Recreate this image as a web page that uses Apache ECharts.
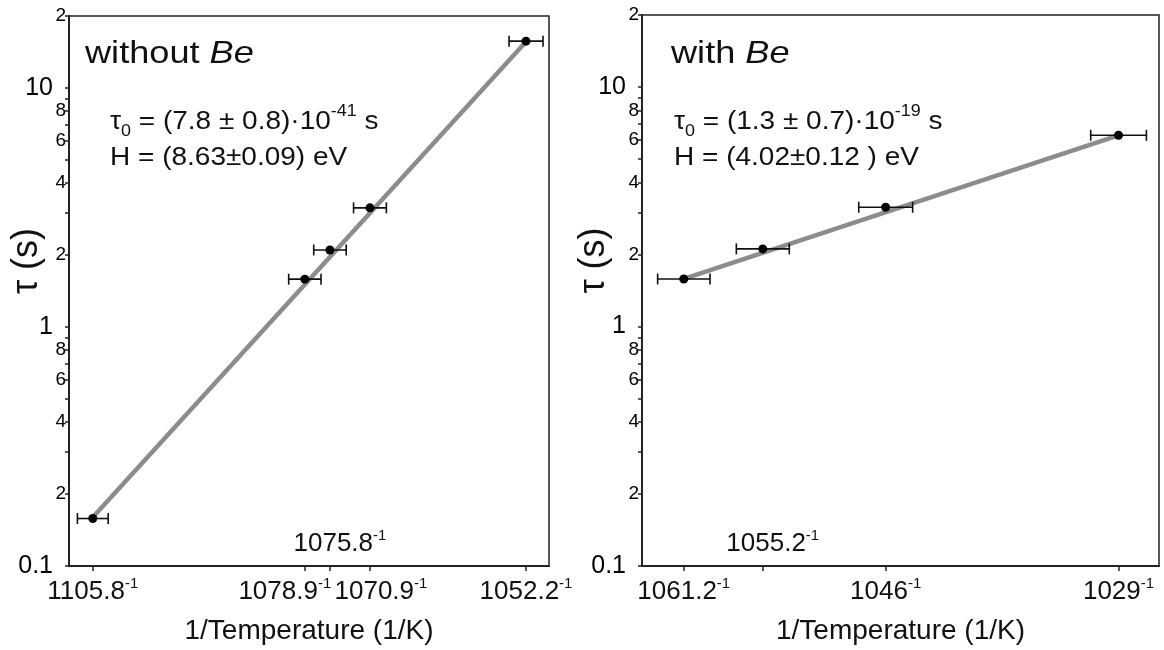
<!DOCTYPE html>
<html>
<head>
<meta charset="utf-8">
<script src="https://cdn.jsdelivr.net/npm/echarts@6/dist/echarts.min.js"></script>
<style>
  html, body { margin: 0; padding: 0; background: #fff; }
  #main { width: 1164px; height: 650px; }
</style>
</head>
<body>
<div id="main"></div>
<script>
// 不含 Be
var tempNoBe = [1105.8, 1078.9, 1075.8, 1070.9, 1052.2]
var tauNoBe = [0.158, 1.585, 2.10, 3.15, 15.7]
var fitTempNoBe = [1105.8, 1052.2]
var fitTauNoBe = [0.16, 15.6]
var tickTempNoBe = [1105.8, 1078.9, 1075.8, 1070.9, 1052.2]
var raisedTempNoBe = 1075.8
var rangeTempNoBe = [1108.9, 1049.5]

// 含 Be
var tempBe = [1061.2, 1055.2, 1046, 1029]
var tauBe = [1.58, 2.11, 3.15, 6.29]
var fitTempBe = [1061.2, 1029]
var fitTauBe = [1.58, 6.29]
var tickTempBe = [1061.2, 1055.2, 1046, 1029]
var raisedTempBe = 1055.2
var rangeTempBe = [1064.4, 1026.1]

var tempErr = 2 // ±K

var yMajor = [0.1, 0.2, 0.4, 0.6, 0.8, 1, 2, 4, 6, 8, 10, 20]
var yMinor = [0.3, 0.5, 0.7, 0.9, 3, 5, 7, 9]
var yLabels = ['0.1', '2', '4', '6', '8', '1', '2', '4', '6', '8', '10', '2']
var yBigIndex = [0, 5, 10]

var FONT = 'Liberation Sans, Arial, sans-serif'

const chart = echarts.init(document.getElementById('main'))

function inv(t) {
  return 1 / t
}

// 挤在一起的两个刻度标签左右错开
function tempLabel(v) {
  var t = Math.round(10 / v) / 10
  if (t === 1078.9) return '{m|' + t + '}{supR|-1}'
  if (t === 1070.9) return '{mL|' + t + '}{sup|-1}'
  return '{m|' + t + '}{sup|-1}'
}

const supRich = {
  m: { fontSize: 26, lineHeight: 32, fontFamily: FONT, color: '#111' },
  mL: { fontSize: 26, lineHeight: 32, fontFamily: FONT, color: '#111', padding: [0, 0, 0, 22] },
  sup: { fontSize: 15, lineHeight: 15, verticalAlign: 'top', fontFamily: FONT, color: '#111' },
  supR: { fontSize: 15, lineHeight: 15, verticalAlign: 'top', fontFamily: FONT, color: '#111', padding: [0, 40, 0, 0] }
}

function yLabel(v) {
  var best = 0
  for (var i = 0; i < yMajor.length; i++) {
    if (Math.abs(Math.log(v) - Math.log(yMajor[i])) < Math.abs(Math.log(v) - Math.log(yMajor[best]))) best = i
  }
  return yBigIndex.indexOf(best) !== -1 ? '{big|' + yLabels[best] + '}' : '{small|' + yLabels[best] + '}'
}

function renderErrBar(params, api) {
  var y = api.value(1)
  var lo = api.coord([api.value(2), y])
  var hi = api.coord([api.value(3), y])
  var cap = 5.5
  var style = { stroke: '#111', lineWidth: 1.6 }
  return {
    type: 'group',
    children: [
      { type: 'line', shape: { x1: lo[0], y1: lo[1], x2: hi[0], y2: hi[1] }, style: style },
      { type: 'line', shape: { x1: lo[0], y1: lo[1] - cap, x2: lo[0], y2: lo[1] + cap }, style: style },
      { type: 'line', shape: { x1: hi[0], y1: hi[1] - cap, x2: hi[0], y2: hi[1] + cap }, style: style }
    ]
  }
}

function xAxisFor(idx, ticks, raised, range) {
  return {
    gridIndex: idx,
    type: 'value',
    min: inv(range[0]),
    max: inv(range[1]),
    name: '1/Temperature (1/K)',
    nameLocation: 'middle',
    nameGap: 51,
    nameMoveOverlap: false,
    nameTextStyle: { fontSize: 28, fontFamily: FONT, color: '#111' },
    axisLine: { onZero: false, lineStyle: { color: '#222', width: 2 } },
    axisTick: { show: true, length: 5, lineStyle: { color: '#222', width: 1.5 }, customValues: ticks.map(inv) },
    axisLabel: {
      margin: 10,
      customValues: ticks.filter(t => t !== raised).map(inv),
      formatter: tempLabel,
      rich: supRich
    },
    splitLine: { show: false }
  }
}

function yAxisFor(idx, nameGap) {
  return {
    gridIndex: idx,
    type: 'log',
    min: 0.1,
    max: 20,
    name: 'τ (s)',
    nameLocation: 'middle',
    nameGap: nameGap,
    nameMoveOverlap: false,
    nameTextStyle: { fontSize: 36, fontFamily: FONT, color: '#111', padding: [0, 0, 0, 60] },
    axisLine: { lineStyle: { color: '#222', width: 2 } },
    axisTick: { show: true, length: 4, lineStyle: { color: '#222', width: 1.5 }, customValues: yMajor.concat(yMinor) },
    axisLabel: {
      margin: 3,
      customValues: yMajor,
      formatter: yLabel,
      rich: {
        big: { fontSize: 25, fontFamily: FONT, color: '#000', padding: [0, 13, 0, 0] },
        small: { fontSize: 19, fontFamily: FONT, color: '#000' }
      }
    },
    splitLine: { show: false }
  }
}

function seriesFor(idx, temps, taus, fitT, fitTau, raised) {
  return [
    {
      type: 'line',
      xAxisIndex: idx,
      yAxisIndex: idx,
      data: fitT.map((t, i) => [inv(t), fitTau[i]]),
      showSymbol: false,
      lineStyle: { color: '#8c8c8c', width: 4.5 },
      silent: true,
      z: 2
    },
    {
      type: 'custom',
      xAxisIndex: idx,
      yAxisIndex: idx,
      renderItem: renderErrBar,
      data: temps.map((t, i) => [inv(t), taus[i], inv(t + tempErr), inv(t - tempErr)]),
      z: 3
    },
    {
      type: 'scatter',
      xAxisIndex: idx,
      yAxisIndex: idx,
      symbolSize: 9,
      itemStyle: { color: '#000', opacity: 1 },
      data: temps.map((t, i) => [inv(t), taus[i]]),
      z: 4
    },
    {
      // 重叠的刻度标签放在轴上方
      type: 'scatter',
      xAxisIndex: idx,
      yAxisIndex: idx,
      symbolSize: 0,
      clip: false,
      silent: true,
      itemStyle: { opacity: 1 },
      data: [[inv(raised), 0.1]],
      label: {
        show: true,
        position: 'top',
        distance: 6,
        offset: [10, 0],
        formatter: p => tempLabel(p.value[0]),
        rich: supRich
      }
    }
  ]
}

function paramText(x, y, tau, h) {
  return {
    type: 'text',
    x: x,
    y: y,
    scaleX: 1.12,
    style: {
      text: '{m|τ}{sub|0}{m| = ' + tau[0] + '}{sup|' + tau[1] + '}{m| s}\n{m|H = ' + h + '}',
      verticalAlign: 'middle',
      rich: {
        m: { fontSize: 25, lineHeight: 36, fontFamily: FONT, fill: '#111' },
        sub: { fontSize: 16, lineHeight: 22, verticalAlign: 'bottom', fontFamily: FONT, fill: '#111' },
        sup: { fontSize: 16, lineHeight: 16, verticalAlign: 'top', fontFamily: FONT, fill: '#111' }
      }
    }
  }
}

function titleText(x, y, a) {
  return {
    type: 'text',
    x: x,
    y: y,
    scaleX: 1.13,
    style: {
      text: '{a|' + a + ' }{b|Be}',
      verticalAlign: 'middle',
      rich: {
        a: { fontSize: 32, fontFamily: FONT, fill: '#111' },
        b: { fontSize: 32, fontStyle: 'italic', fontFamily: FONT, fill: '#111' }
      }
    }
  }
}

const option = {
  animation: false,
  grid: [
    { left: 69, top: 16, width: 480, height: 552, show: true, borderColor: '#222', borderWidth: 1.5 },
    { left: 642, top: 15, width: 517, height: 552, show: true, borderColor: '#222', borderWidth: 1.5 }
  ],
  xAxis: [
    xAxisFor(0, tickTempNoBe, raisedTempNoBe, rangeTempNoBe),
    xAxisFor(1, tickTempBe, raisedTempBe, rangeTempBe)
  ],
  yAxis: [yAxisFor(0, 24), yAxisFor(1, 30)],
  series: seriesFor(0, tempNoBe, tauNoBe, fitTempNoBe, fitTauNoBe, raisedTempNoBe)
    .concat(seriesFor(1, tempBe, tauBe, fitTempBe, fitTauBe, raisedTempBe)),
  graphic: [
    titleText(85, 54, 'without'),
    paramText(110, 140, ['(7.8 ± 0.8)·10', '-41'], '(8.63±0.09) eV'),
    titleText(671, 54, 'with'),
    paramText(674, 140, ['(1.3 ± 0.7)·10', '-19'], '(4.02±0.12 ) eV')
  ]
}

chart.setOption(option)
window.addEventListener('resize', () => {
  chart.resize()
})
</script>
</body>
</html>
